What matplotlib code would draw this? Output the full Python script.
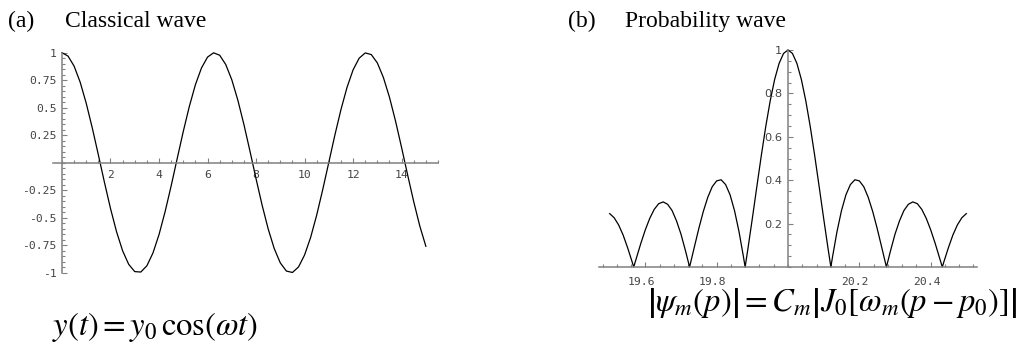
import matplotlib
matplotlib.use("Agg")
import matplotlib.pyplot as plt
from matplotlib.ticker import MultipleLocator, FixedLocator
from matplotlib.transforms import ScaledTranslation

# (a) classical wave, sampled every 0.25 in t
t_values = [0.0, 0.25, 0.5, 0.75, 1.0, 1.25, 1.5, 1.75, 2.0, 2.25, 2.5, 2.75,
            3.0, 3.25, 3.5, 3.75, 4.0, 4.25, 4.5, 4.75, 5.0, 5.25, 5.5, 5.75,
            6.0, 6.25, 6.5, 6.75, 7.0, 7.25, 7.5, 7.75, 8.0, 8.25, 8.5, 8.75,
            9.0, 9.25, 9.5, 9.75, 10.0, 10.25, 10.5, 10.75, 11.0, 11.25, 11.5,
            11.75, 12.0, 12.25, 12.5, 12.75, 13.0, 13.25, 13.5, 13.75, 14.0,
            14.25, 14.5, 14.75, 15.0]
y_values = [1.0, 0.969, 0.878, 0.732, 0.540, 0.315, 0.071, -0.178, -0.416,
            -0.628, -0.801, -0.924, -0.990, -0.994, -0.937, -0.821, -0.654,
            -0.446, -0.211, 0.038, 0.284, 0.512, 0.709, 0.861, 0.960, 0.999,
            0.977, 0.893, 0.754, 0.568, 0.347, 0.104, -0.146, -0.386, -0.602,
            -0.781, -0.911, -0.985, -0.998, -0.948, -0.839, -0.679, -0.476,
            -0.243, 0.004, 0.252, 0.483, 0.685, 0.844, 0.950, 0.998, 0.983,
            0.907, 0.774, 0.595, 0.378, 0.137, -0.113, -0.355, -0.576, -0.760]

# (b) probability wave, sampled every 0.0125 in p plus the zero crossings
p_values = [19.5, 19.5125, 19.525, 19.5375, 19.55, 19.5625, 19.5673, 19.575,
            19.5875, 19.6, 19.6125, 19.625, 19.6375, 19.65, 19.6625, 19.675,
            19.6875, 19.7, 19.7125, 19.724, 19.7375, 19.75, 19.7625, 19.775,
            19.7875, 19.8, 19.8125, 19.825, 19.8375, 19.85, 19.8625, 19.875,
            19.8798, 19.8875, 19.9, 19.9125, 19.925, 19.9375, 19.95, 19.9625,
            19.975, 19.9875, 20.0, 20.0125, 20.025, 20.0375, 20.05, 20.0625,
            20.075, 20.0875, 20.1, 20.1125, 20.1202, 20.125, 20.1375, 20.15,
            20.1625, 20.175, 20.1875, 20.2, 20.2125, 20.225, 20.2375, 20.25,
            20.2625, 20.276, 20.2875, 20.3, 20.3125, 20.325, 20.3375, 20.35,
            20.3625, 20.375, 20.3875, 20.4, 20.4125, 20.425, 20.4327, 20.4375,
            20.45, 20.4625, 20.475, 20.4875, 20.5]
psi_values = [0.246, 0.227, 0.194, 0.148, 0.090, 0.026, 0.0, 0.042, 0.110,
              0.172, 0.225, 0.266, 0.292, 0.300, 0.289, 0.260, 0.212, 0.151,
              0.075, 0.0, 0.093, 0.178, 0.256, 0.321, 0.370, 0.397, 0.402,
              0.380, 0.333, 0.260, 0.164, 0.048, 0.0, 0.083, 0.224, 0.369,
              0.512, 0.646, 0.765, 0.864, 0.938, 0.984, 1.0, 0.984, 0.938,
              0.864, 0.765, 0.646, 0.512, 0.369, 0.224, 0.083, 0.0, 0.048,
              0.164, 0.260, 0.333, 0.380, 0.402, 0.397, 0.370, 0.321, 0.256,
              0.178, 0.093, 0.0, 0.075, 0.151, 0.212, 0.260, 0.289, 0.300,
              0.292, 0.266, 0.225, 0.172, 0.110, 0.042, 0.0, 0.026, 0.090,
              0.148, 0.194, 0.227, 0.246]

left_xticks = [2, 4, 6, 8, 10, 12, 14]
left_yticks = [-1, -0.75, -0.5, -0.25, 0.25, 0.5, 0.75, 1]
left_ylabels = ["-1", "-0.75", "-0.5", "-0.25", "0.25", "0.5", "0.75", "1"]
right_xticks = [19.6, 19.8, 20.2, 20.4]
right_yticks = [0.2, 0.4, 0.6, 0.8, 1]
right_ylabels = ["0.2", "0.4", "0.6", "0.8", "1"]

W, H = 1019, 352
AXIS_COLOR = "#808080"
LABEL_COLOR = "#444444"
TICK_FONT = "DejaVu Sans Mono"

plt.rcParams["mathtext.fontset"] = "stix"

fig = plt.figure(figsize=(W / 100, H / 100), dpi=100)


def make_axes(x0, x1, y_top, y_bot):
    # pixel box -> figure fraction
    return fig.add_axes([x0 / W, 1 - y_bot / H, (x1 - x0) / W, (y_bot - y_top) / H])


def style_axes(ax):
    for side in ["top", "right"]:
        ax.spines[side].set_visible(False)
    for side in ["left", "bottom"]:
        ax.spines[side].set_position(("data", 0))
        ax.spines[side].set_color(AXIS_COLOR)
        ax.spines[side].set_linewidth(1.1)
    ax.tick_params(which="both", direction="in", color=AXIS_COLOR, width=0.8,
                   labelcolor=LABEL_COLOR, labelsize=8.2)
    ax.tick_params(which="major", length=3.5)
    ax.tick_params(which="minor", length=2)
    ax.tick_params(axis="y", pad=4)
    ax.tick_params(axis="x", pad=5)
    for lab in ax.get_xticklabels() + ax.get_yticklabels():
        lab.set_fontfamily(TICK_FONT)
    ax.patch.set_visible(False)


# ---- (a) classical wave ----
ax1 = make_axes(53, 438, 50.5, 274.9)
ax1.plot(t_values, y_values, color="black", linewidth=0.9, clip_on=False)
ax1.set_xlim(-0.37, 15.5)
ax1.set_ylim(-1.02, 1.02)
ax1.spines["bottom"].set_bounds(-0.37, 15.5)
ax1.spines["left"].set_bounds(-1, 1)
ax1.xaxis.set_major_locator(FixedLocator(left_xticks))
ax1.xaxis.set_minor_locator(MultipleLocator(0.5))
ax1.set_yticks(left_yticks)
ax1.set_yticklabels(left_ylabels)
ax1.yaxis.set_minor_locator(MultipleLocator(0.05))
style_axes(ax1)

# ---- (b) probability wave ----
ax2 = make_axes(599, 977, 47.8, 269.2)
ax2.plot(p_values, psi_values, color="black", linewidth=0.9, clip_on=False)
ax2.set_xlim(19.47, 20.53)
ax2.set_ylim(-0.01, 1.01)
ax2.spines["bottom"].set_bounds(19.47, 20.53)
ax2.xaxis.set_major_locator(FixedLocator(right_xticks))
ax2.xaxis.set_minor_locator(MultipleLocator(0.04))
ax2.set_yticks(right_yticks)
ax2.set_yticklabels(right_ylabels)
ax2.yaxis.set_minor_locator(MultipleLocator(0.05))
style_axes(ax2)
ax2.spines["left"].set_position(("data", 20))
ax2.spines["left"].set_bounds(0, 1)
ax2.tick_params(axis="x", pad=7)
for lab in ax2.get_xticklabels():
    lab.set_transform(lab.get_transform() + ScaledTranslation(-4 / 100, 0, fig.dpi_scale_trans))

# ---- titles and formulas ----
title_kw = dict(fontfamily="Liberation Serif", fontsize=17, va="baseline", color="black")
fig.text(8 / W, 1 - 27 / H, "(a)", **title_kw)
fig.text(65 / W, 1 - 27 / H, "Classical wave", **title_kw)
fig.text(568 / W, 1 - 27 / H, "(b)", **title_kw)
fig.text(625 / W, 1 - 27 / H, "Probability wave", **title_kw)

fig.text(52 / W, 1 - 335 / H, r"$y\left(t\right) = y_0\,\cos(\omega t)$",
         fontsize=23.5, va="baseline")
fig.text(1017 / W, 1 - 311 / H,
         r"$\left|\psi_m(p)\right| = C_m\left|J_0\left[\omega_m(p-p_0)\right]\right|$",
         fontsize=23.5, va="baseline", ha="right")

fig.savefig("out.png", dpi=100)
